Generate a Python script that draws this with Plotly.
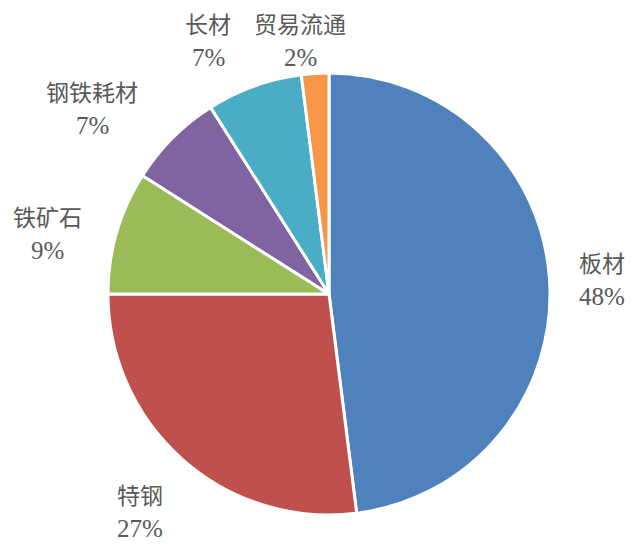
import plotly.graph_objects as go

# Sales mix by business segment (share of total, %)
categories = ["板材", "特钢", "铁矿石", "钢铁耗材", "长材", "贸易流通"]
shares = [48, 27, 9, 7, 7, 2]
colors = ["#4F81BD", "#C0504D", "#9BBB59", "#8064A2", "#4BACC6", "#F79646"]

W, H = 636, 552

# Label anchor points (pixel coordinates of each label's centre)
label_pos = [(602, 279), (140, 511), (47, 233), (92, 108), (208, 40), (300, 40)]

fig = go.Figure(
    go.Pie(
        labels=categories,
        values=shares,
        sort=False,
        direction="clockwise",
        rotation=0,
        marker=dict(colors=colors, line=dict(color="white", width=3)),
        textinfo="none",
        hoverinfo="skip",
        showlegend=False,
        domain=dict(x=[(329 - 221) / W, (329 + 221) / W],
                    y=[(258 - 221) / H, (258 + 221) / H]),
    )
)

total = sum(shares)
annotations = []
for name, val, (px, py) in zip(categories, shares, label_pos):
    pct = round(val / total * 100)
    annotations.append(dict(
        x=px / W, y=1 - (py - 17) / H, xref="paper", yref="paper",
        text=name, showarrow=False, xanchor="center", yanchor="middle",
        font=dict(family="Noto Sans CJK SC", size=23, color="#595959"),
    ))
    annotations.append(dict(
        x=px / W, y=1 - (py + 17) / H, xref="paper", yref="paper",
        text=f"{pct}%", showarrow=False, xanchor="center", yanchor="middle",
        font=dict(family="Liberation Serif", size=25, color="#595959"),
    ))

fig.update_layout(
    width=W, height=H,
    margin=dict(l=0, r=0, t=0, b=0),
    paper_bgcolor="white", plot_bgcolor="white",
    annotations=annotations,
)

fig.write_html("out.html")
